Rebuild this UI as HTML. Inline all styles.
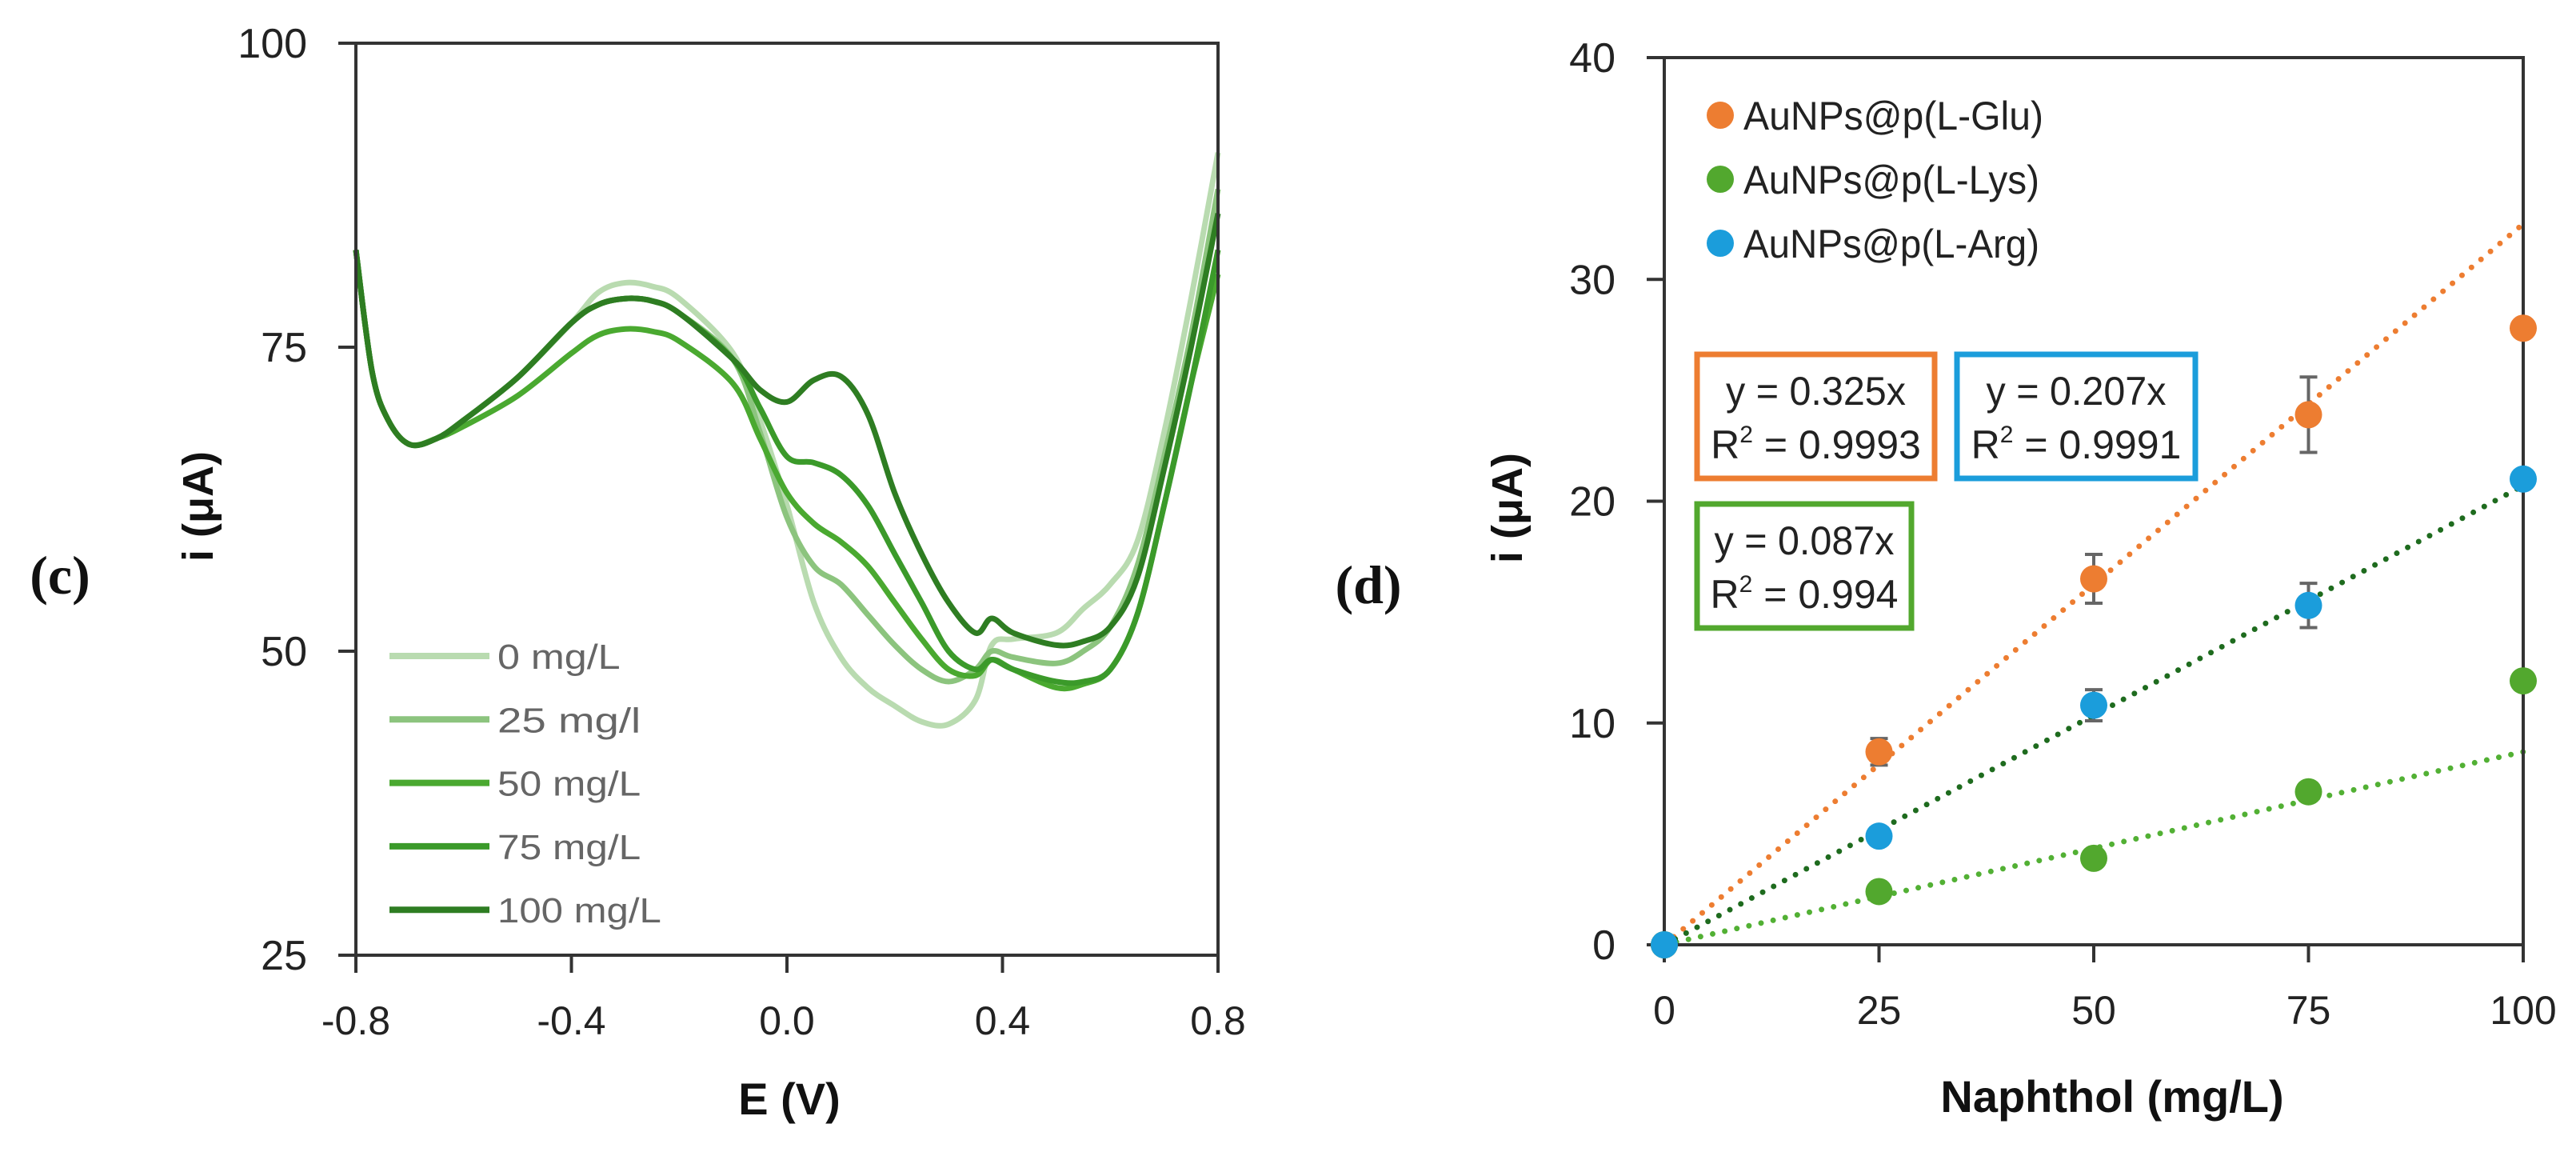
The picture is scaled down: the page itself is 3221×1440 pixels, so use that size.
<!DOCTYPE html>
<html><head><meta charset="utf-8">
<style>
html,body{margin:0;padding:0;background:#fff;}
svg{display:block;}
text{font-family:"Liberation Sans",Arial,sans-serif;}
</style></head>
<body>
<svg id="fig" width="3221" height="1440" viewBox="0 0 3221 1440" xmlns="http://www.w3.org/2000/svg">
<rect width="3221" height="1440" fill="#fff"/>
<g id="left"></g>
<g id="right"></g>
</svg>
<script>
// ---------- Chart (c) data ----------
const cvE = [-0.8,-0.77,-0.74,-0.7,-0.65,-0.6,-0.5,-0.4,-0.35,-0.3,-0.25,-0.2,-0.1,-0.05,0,0.05,0.1,0.15,0.2,0.25,0.3,0.35,0.38,0.42,0.5,0.55,0.6,0.65,0.7,0.75,0.8];
const cv0   = [83,73,69,67,67.5,69,72.5,77,79.5,80.3,80,79,74.5,69,62,54,49.5,47,45.5,44.2,44,46,50.5,51,51.5,53.5,55.5,59,68,79,91];
const cv25  = [83,73,69,67,67.5,69,72.5,77,78.5,79,78.8,77.8,74,68,61,57,55.5,53,50.5,48.5,47.5,48.5,50,49.5,49,50,52,57,66,76,88];
const cv50  = [83,73,69,67,67.5,68.5,71,74.5,76,76.5,76.3,75.5,72,67.5,63,60.5,59,57,54,51,48.5,48,49.3,48.5,47,47.3,48.5,53,62,72,81];
const cv75  = [83,73,69,67,67.5,69,72.5,77,78.5,79,78.8,77.8,74,70,66,65.5,64.5,62,58,54,50,48.5,49.3,48.5,47.5,47.5,48.5,53,62,72,83];
const cv100 = [83,73,69,67,67.5,69,72.5,77,78.5,79,78.8,77.8,74,71.5,70.5,72.3,72.6,69.5,63,58,54,51.5,52.7,51.5,50.5,50.8,52,56,65,75,86];
const cvLabels = ["0 mg/L","25 mg/l","50 mg/L","75 mg/L","100 mg/L"];
const cvColors = ["#b9dbb0","#8cc47e","#4aa930","#3b9a2a","#2e7d22"];
const cvXTicks = [-0.8,-0.4,0.0,0.4,0.8];
const cvYTicks = [25,50,75,100];

// ---------- Chart (d) data ----------
const conc = [0,25,50,75,100];
const glu = [0,8.7,16.5,23.9,27.8];
const gluErr = [0,0.6,1.1,1.7,0];
const lys = [0,2.4,3.9,6.9,11.9];
const lysErr = [0,0,0,0.4,0];
const arg = [0,4.9,10.8,15.3,21.0];
const argErr = [0,0,0.7,1.0,0];
const slopes = [0.325,0.087,0.207];
const dXTicks = [0,25,50,75,100];
const dYTicks = [0,10,20,30,40];

const NS="http://www.w3.org/2000/svg";
function mk(parent,tag,attrs,txt){const e=document.createElementNS(NS,tag);for(const k in attrs)e.setAttribute(k,attrs[k]);if(txt!==undefined)e.textContent=txt;parent.appendChild(e);return e;}
function smooth(pts){let d="M"+pts[0][0]+","+pts[0][1];for(let i=0;i<pts.length-1;i++){const p0=pts[Math.max(0,i-1)],p1=pts[i],p2=pts[i+1],p3=pts[Math.min(pts.length-1,i+2)];const c1=[p1[0]+(p2[0]-p0[0])/6,p1[1]+(p2[1]-p0[1])/6],c2=[p2[0]-(p3[0]-p1[0])/6,p2[1]-(p3[1]-p1[1])/6];d+=" C"+c1[0]+","+c1[1]+" "+c2[0]+","+c2[1]+" "+p2[0]+","+p2[1];}return d;}

// ---------- Draw (c) ----------
(function(){
const g=document.getElementById('left');
const X0=445,X1=1523,Y0=1194,Y1=54;
const xs=v=>X0+(v+0.8)/1.6*(X1-X0);
const ys=v=>Y0-(v-25)/75*(Y0-Y1);
const series=[cv0,cv25,cv50,cv75,cv100];
series.forEach((s,k)=>{
  const p=mk(g,'path',{d:smooth(cvE.map((e,i)=>[xs(e),ys(s[i])])),fill:'none',stroke:cvColors[k],'stroke-width':7,'stroke-linejoin':'round'});
  
  
});
const fr=mk(g,'rect',{x:X0,y:Y1,width:X1-X0,height:Y0-Y1,fill:'none',stroke:'#333','stroke-width':4});


cvYTicks.forEach(v=>{
  mk(g,'line',{x1:X0-22,x2:X0,y1:ys(v),y2:ys(v),stroke:'#333','stroke-width':4});
  const t=mk(g,'text',{x:384,y:ys(v)+18,'text-anchor':'end','font-size':52,fill:'#222'},String(v));
  
  
});
cvXTicks.forEach(v=>{
  mk(g,'line',{x1:xs(v),x2:xs(v),y1:Y0,y2:Y0+22,stroke:'#333','stroke-width':4});
  const t=mk(g,'text',{x:xs(v),y:1293,'text-anchor':'middle','font-size':50,fill:'#222'},v.toFixed(1));
  
  
});
cvLabels.forEach((l,k)=>{
  const y=820+k*79.3;
  const ln=mk(g,'line',{x1:487,x2:612,y1:y,y2:y,stroke:cvColors[k],'stroke-width':8});
  
  
  const t=mk(g,'text',{x:622,y:y+16,'font-size':44,fill:'#666','textLength':l.length*25.6,'lengthAdjust':'spacingAndGlyphs'},l);
  
  
});
const xt=mk(g,'text',{x:987,y:1393,'text-anchor':'middle','font-size':56,'font-weight':'bold',fill:'#111'},'E (V)');


const yt=mk(g,'text',{x:0,y:0,'text-anchor':'middle','font-size':54,'font-weight':'bold',fill:'#111',transform:'translate(266,633) rotate(-90)'},'i (μA)');


const pl=mk(g,'text',{x:75,y:742,'text-anchor':'middle','font-size':68,'font-weight':'bold',fill:'#111',style:'font-family:"Liberation Serif",serif'},'(c)');


})();

// ---------- Draw (d) ----------
(function(){
const g=document.getElementById('right');
const X0=2081,X1=3155,Y0=1181,Y1=72;
const xs=v=>X0+v/100*(X1-X0);
const ys=v=>Y0-v/40*(Y0-Y1);
const cols=['#ed7d31','#52a82e','#1b9ddb'];
const lineCols=['#ed7d31','#52b034','#1e6b1e'];
slopes.forEach((s,k)=>{
  const l=mk(g,'line',{x1:xs(0),y1:ys(0),x2:xs(100),y2:ys(100*s),stroke:lineCols[k],'stroke-width':7,'stroke-linecap':'round','stroke-dasharray':'0 15.5'});
  
  
});
const fr=mk(g,'rect',{x:X0,y:Y1,width:X1-X0,height:Y0-Y1,fill:'none',stroke:'#333','stroke-width':4});


dYTicks.forEach(v=>{
  mk(g,'line',{x1:X0-22,x2:X0,y1:ys(v),y2:ys(v),stroke:'#333','stroke-width':4});
  const t=mk(g,'text',{x:2020,y:ys(v)+18,'text-anchor':'end','font-size':52,fill:'#222'},String(v));
  
  
});
dXTicks.forEach(v=>{
  mk(g,'line',{x1:xs(v),x2:xs(v),y1:Y0,y2:Y0+22,stroke:'#333','stroke-width':4});
  const t=mk(g,'text',{x:xs(v),y:1280,'text-anchor':'middle','font-size':50,fill:'#222'},String(v));
  
  
});
const sets=[[glu,gluErr,'glu'],[lys,lysErr,'lys'],[arg,argErr,'arg']];
sets.forEach(([vals,errs,nm],k)=>{
  conc.forEach((c,i)=>{
    if(errs[i]>0){
      const x=xs(c),a=ys(vals[i]+errs[i]),b=ys(vals[i]-errs[i]);
      const e=mk(g,'path',{d:`M${x},${a}V${b}M${x-11},${a}H${x+11}M${x-11},${b}H${x+11}`,stroke:'#666','stroke-width':4,fill:'none'});
      
      
    }
    const p=mk(g,'ellipse',{cx:xs(c),cy:ys(vals[i]),rx:17,ry:17,fill:cols[k]});
    
    
  });
});
['AuNPs@p(L-Glu)','AuNPs@p(L-Lys)','AuNPs@p(L-Arg)'].forEach((l,k)=>{
  const y=144+k*80;
  const c=mk(g,'ellipse',{cx:2151,cy:y,rx:17,ry:17,fill:cols[k]});
  
  
  const t=mk(g,'text',{x:2180,y:y+18,'font-size':50,fill:'#222','textLength':k==0?375:370,'lengthAdjust':'spacingAndGlyphs'},l);
  
  
});
const boxes=[[2122,443,297,155,cols[0],'y = 0.325x','0.9993','eq-box-glu',506],[2447,443,298,155,cols[2],'y = 0.207x','0.9991','eq-box-arg',506],[2122,630,268,155,cols[1],'y = 0.087x','0.994','eq-box-lys',693]];
boxes.forEach(([x,y,w,h,c,l1,r2,nm,b1])=>{
  const bg=mk(g,'g',{});
  
  
  mk(bg,'rect',{x:x,y:y,width:w,height:h,fill:'#fff',stroke:c,'stroke-width':7});
  mk(bg,'text',{x:x+w/2,y:b1,'text-anchor':'middle','font-size':50,fill:'#222','textLength':225,'lengthAdjust':'spacingAndGlyphs'},l1);
  const t2=mk(bg,'text',{x:x+w/2,y:b1+67,'text-anchor':'middle','font-size':50,fill:'#222'});
  mk(t2,'tspan',{},'R');
  mk(t2,'tspan',{dy:-20,'font-size':30},'2');
  mk(t2,'tspan',{dy:20},' = '+r2);
});
const xt=mk(g,'text',{x:2641,y:1390,'text-anchor':'middle','font-size':56,'font-weight':'bold',fill:'#111'},'Naphthol (mg/L)');


const yt=mk(g,'text',{x:0,y:0,'text-anchor':'middle','font-size':54,'font-weight':'bold',fill:'#111',transform:'translate(1903,635) rotate(-90)'},'i (μA)');


const pl=mk(g,'text',{x:1711,y:754,'text-anchor':'middle','font-size':68,'font-weight':'bold',fill:'#111',style:'font-family:"Liberation Serif",serif'},'(d)');


})();
</script>
</body></html>
